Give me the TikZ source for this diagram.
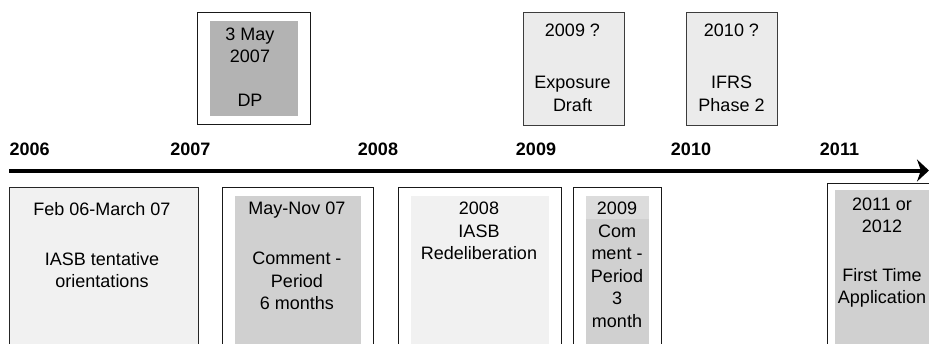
\documentclass[tikz,border=0pt]{standalone}
\usepackage{fontspec}
\setmainfont{Liberation Sans}
\usepackage{tikz}
\usetikzlibrary{arrows.meta,shapes}

\definecolor{dpgray}{HTML}{B3B3B3}
\definecolor{midgray}{HTML}{D0D0D0}
\definecolor{bandgray}{HTML}{DCDCDC}
\definecolor{palegray}{HTML}{F1F1F1}
\definecolor{boxgray}{HTML}{EBEBEB}
\definecolor{edgegray}{HTML}{3C3C3C}
\newcommand\eventfont{\fontsize{18}{22.5}\selectfont}

\begin{document}
\begin{tikzpicture}[x=1pt,y=1pt]
  \tikzstyle{frame}=[rectangle,draw=black!90,line width=0.9pt,fill=white,inner sep=0pt]
  \tikzstyle{soft frame}=[frame,draw=edgegray,fill=boxgray]
  \tikzstyle{shade}=[rectangle,inner sep=0pt]
  \tikzstyle{event}=[align=center,inner sep=0pt,anchor=north,font=\eventfont]
  \tikzstyle{year}=[inner sep=0pt,anchor=base,font=\eventfont\bfseries]
  \path[use as bounding box,clip] (0,0) rectangle (929,-343);

  % events above the time line
  \node [frame,minimum width=113pt,minimum height=112pt] (dpframe) at (253.5,-68) {};
  \node [shade,fill=dpgray,minimum width=88pt,minimum height=95pt] (dpfill) at (254,-68.5) {};
  \node [event] (dp) at (250,-27.7) {3 May\\2007\\[21.5pt]DP};

  \node [soft frame,minimum width=101pt,minimum height=113pt] (exposure) at (573.5,-68.5) {};
  \node [event] (exposuretext) at (572.5,-23.7) {2009 ?\\[30pt]Exposure\\Draft};

  \node [soft frame,minimum width=91pt,minimum height=113pt] (ifrs) at (731.5,-68.5) {};
  \node [event] (ifrstext) at (731.5,-23.7) {2010 ?\\[30pt]IFRS\\Phase 2};

  % time line
  \node [year] (y2006) at (29.7,-155) {2006};
  \node [year] (y2007) at (190.3,-155) {2007};
  \node [year] (y2008) at (378,-155) {2008};
  \node [year] (y2009) at (536,-155) {2009};
  \node [year] (y2010) at (691,-155) {2010};
  \node [year] (y2011) at (839.5,-155) {2011};
  \coordinate (tstart) at (9.3,-170.5);
  \coordinate (tend) at (929,-170.5);
  \draw [line width=4pt,-{Stealth[length=12pt,width=22pt]}] (tstart) -- (tend);

  % events below the time line
  \node [frame,draw=black!85,fill=palegray,minimum width=188.7pt,minimum height=173pt] (tentative) at (103.6,-273.8) {};
  \node [event] (tentativetext) at (102,-202) {Feb 06-March 07\\[27.5pt]IASB tentative\\orientations};

  \node [frame,minimum width=151pt,minimum height=173pt] (commentframe) at (297.5,-273.5) {};
  \node [shade,fill=midgray,minimum width=126pt,minimum height=164pt] (commentfill) at (298,-278) {};
  \node [event] (comment) at (297,-202) {May-Nov 07\\[27.5pt]Comment -\\Period\\6 months};

  \node [frame,minimum width=163pt,minimum height=173pt] (redelframe) at (479.5,-273.5) {};
  \node [shade,fill=palegray,minimum width=138pt,minimum height=164pt] (redelfill) at (480,-278) {};
  \node [event] (redel) at (479,-202) {2008\\IASB\\Redeliberation};

  \node [frame,minimum width=88pt,minimum height=173pt] (secondframe) at (617,-273.5) {};
  \node [shade,fill=midgray,minimum width=63pt,minimum height=164pt] (secondfill) at (617.5,-278) {};
  \node [shade,fill=bandgray,minimum width=63pt,minimum height=23pt] (secondband) at (617.5,-207.5) {};
  \node [event] (second) at (617,-202) {2009\\Com\\ment -\\Period\\3\\month};

  \node [frame,minimum width=123pt,minimum height=177pt] (firstframe) at (888.5,-271.5) {};
  \node [shade,fill=midgray,minimum width=115pt,minimum height=170pt] (firstfill) at (892.5,-275) {};
  \node [event] (first) at (882,-197.7) {2011 or\\2012\\[26pt]First Time\\Application};
\end{tikzpicture}
\end{document}
